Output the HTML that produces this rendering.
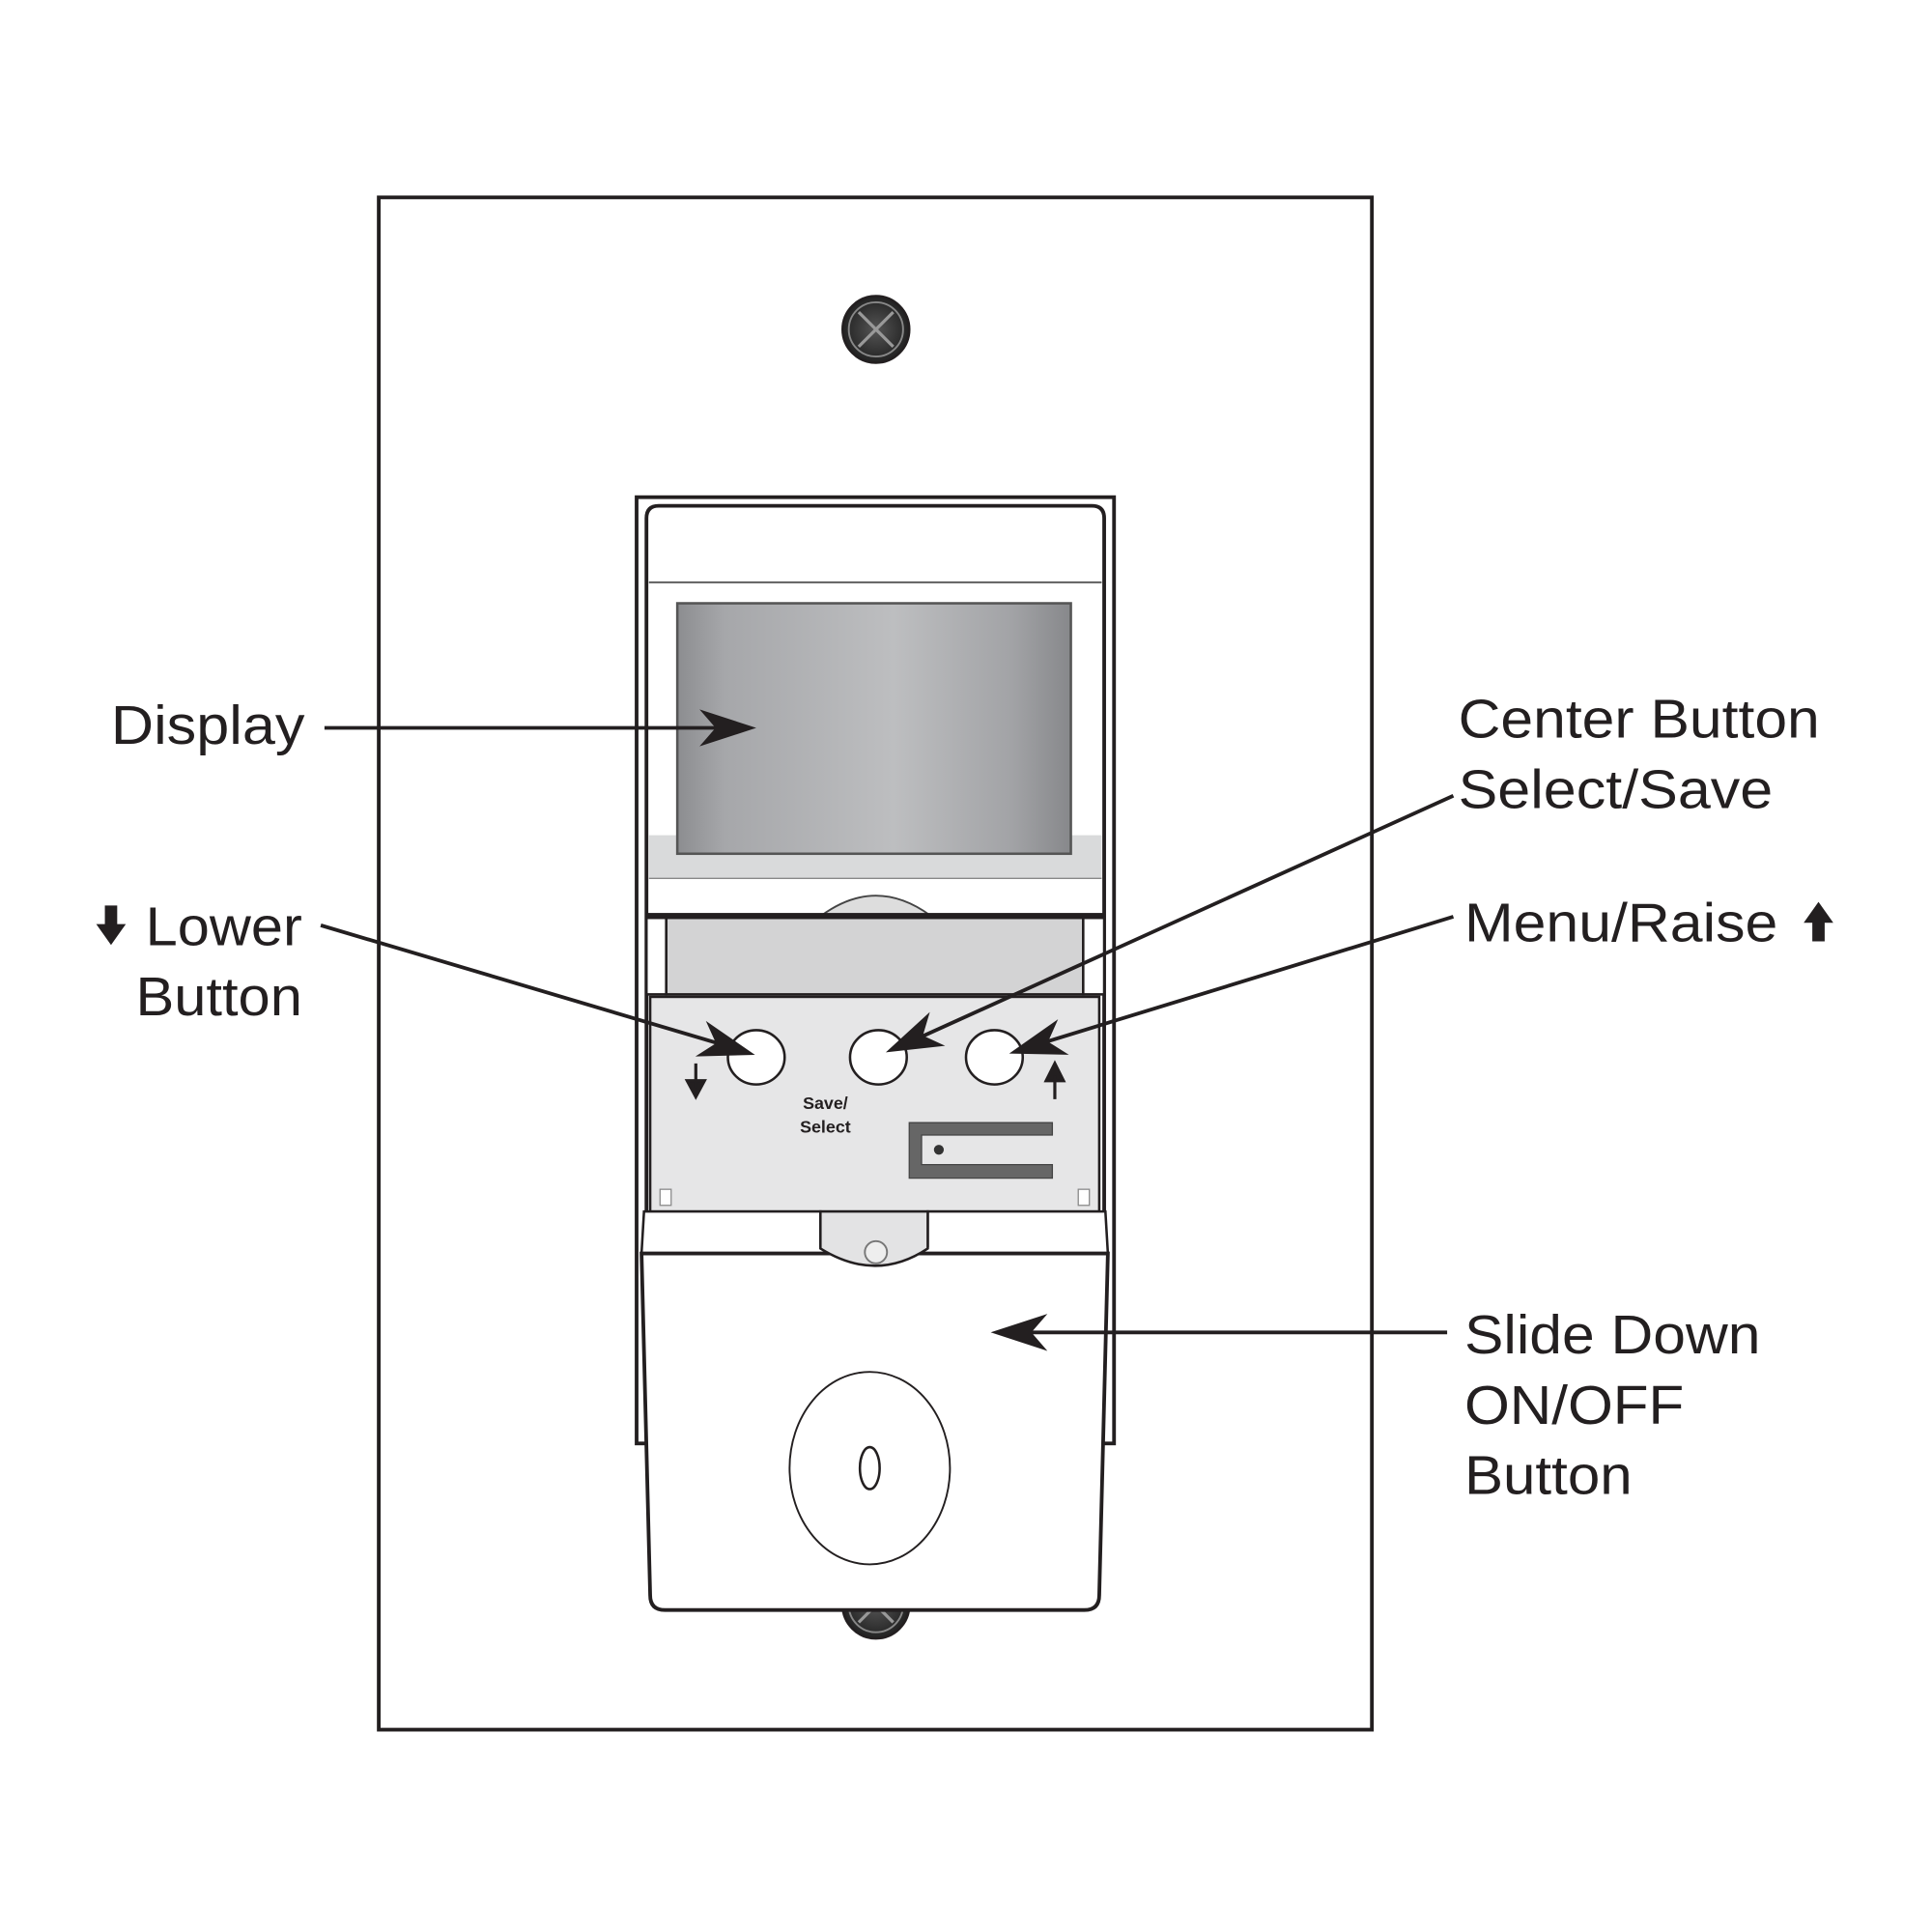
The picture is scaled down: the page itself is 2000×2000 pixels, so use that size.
<!DOCTYPE html>
<html><head><meta charset="utf-8"><style>
html,body{margin:0;padding:0;background:#fff;}
svg{display:block;}
text{font-family:"Liberation Sans",Arial,sans-serif;fill:#231f20;}
</style></head><body>
<svg width="2000" height="2000" viewBox="0 0 1566 1566" xmlns="http://www.w3.org/2000/svg">
<defs>
<linearGradient id="disp" x1="0" x2="1" y1="0" y2="0">
<stop offset="0" stop-color="#8c8d90"/><stop offset="0.12" stop-color="#a6a7aa"/>
<stop offset="0.55" stop-color="#bdbec0"/><stop offset="0.85" stop-color="#a2a3a6"/><stop offset="1" stop-color="#87888b"/>
</linearGradient>
<radialGradient id="scr"><stop offset="0" stop-color="#555"/><stop offset="1" stop-color="#222"/></radialGradient>
</defs>
<rect x="307" y="160" width="805" height="1242" fill="#fff" stroke="#231f20" stroke-width="3"/>
<!-- top screw -->
<circle cx="710" cy="267" r="27" fill="url(#scr)" stroke="#231f20" stroke-width="2"/>
<circle cx="710" cy="267" r="22" fill="none" stroke="#888" stroke-width="1.5"/>
<path d="M696 253 L724 281 M724 253 L696 281" stroke="#999" stroke-width="2.5"/>
<!-- bottom screw -->
<circle cx="710" cy="1301" r="27" fill="url(#scr)" stroke="#231f20" stroke-width="2"/>
<circle cx="710" cy="1301" r="22" fill="none" stroke="#888" stroke-width="1.5"/>
<path d="M696 1287 L724 1315 M724 1287 L696 1315" stroke="#999" stroke-width="2.5"/>
<!-- housing -->
<rect x="516" y="403" width="387" height="767" fill="#fff" stroke="#231f20" stroke-width="3"/>
<path d="M524 1000 L524 420 Q524 410 534 410 L885 410 Q895 410 895 420 L895 1000" fill="#fff" stroke="#231f20" stroke-width="3"/>
<line x1="526" y1="472" x2="893" y2="472" stroke="#555" stroke-width="1.5"/>
<rect x="526" y="677" width="367" height="35" fill="#d9dadb"/>
<line x1="526" y1="712" x2="893" y2="712" stroke="#888" stroke-width="1"/>
<rect x="549" y="489" width="319" height="203" fill="url(#disp)" stroke="#555" stroke-width="2"/>
<path d="M666 742 Q710 710 754 742 Z" fill="#ddd" stroke="#444" stroke-width="1.5"/>
<rect x="523" y="740" width="373" height="4" fill="#231f20"/>
<rect x="540" y="744" width="338" height="62" fill="#d3d3d4" stroke="#231f20" stroke-width="2"/>
<rect x="524" y="744" width="16" height="62" fill="#fff" stroke="#231f20" stroke-width="2"/>
<rect x="878" y="744" width="17" height="62" fill="#fff" stroke="#231f20" stroke-width="2"/>
<rect x="527" y="808" width="364" height="174" fill="#e6e6e7" stroke="#231f20" stroke-width="2"/>
<ellipse cx="613" cy="857" rx="23" ry="22" fill="#fff" stroke="#231f20" stroke-width="2"/>
<ellipse cx="712" cy="857" rx="23" ry="22" fill="#fff" stroke="#231f20" stroke-width="2"/>
<ellipse cx="806" cy="857" rx="23" ry="22" fill="#fff" stroke="#231f20" stroke-width="2"/>
<path d="M564 862 V882 M557 876 L564 889 L571 876 Z" stroke="#231f20" stroke-width="2.5" fill="#231f20"/>
<path d="M855 891 V872 M848 876 L855 862 L862 876 Z" stroke="#231f20" stroke-width="2.5" fill="#231f20"/>
<text x="669" y="899" font-size="14" font-weight="bold" text-anchor="middle">Save/</text>
<text x="669" y="918" font-size="14" font-weight="bold" text-anchor="middle">Select</text>
<path d="M737 910 H853 V920 H747 V944 H853 V955 H737 Z" fill="#666" stroke="#444" stroke-width="1"/>
<circle cx="761" cy="932" r="4" fill="#333"/>
<rect x="535" y="964" width="9" height="13" fill="#fff" stroke="#888" stroke-width="1"/>
<rect x="874" y="964" width="9" height="13" fill="#fff" stroke="#888" stroke-width="1"/>
<!-- tab region -->
<path d="M522 982 H665 V1010 L752 1010 V982 H896 L898 1016 H520 Z" fill="#fff" stroke="#231f20" stroke-width="2"/>
<!-- slide cover -->
<path d="M520 1016 H898 L891 1293 Q891 1305 879 1305 L539 1305 Q527 1305 527 1293 Z" fill="#fff" stroke="#231f20" stroke-width="3"/>
<path d="M665 982 H752 V1012 Q710 1040 665 1012 Z" fill="#e3e3e4" stroke="#231f20" stroke-width="2"/>
<circle cx="710" cy="1015" r="9" fill="#eee" stroke="#777" stroke-width="1.5"/>
<ellipse cx="705" cy="1190" rx="65" ry="78" fill="#fff" stroke="#231f20" stroke-width="1.5"/>
<ellipse cx="705" cy="1190" rx="8" ry="17" fill="#fff" stroke="#231f20" stroke-width="2"/>
<!-- leaders -->
<g stroke="#231f20" stroke-width="3" fill="none">
<line x1="263" y1="590" x2="600" y2="590"/>
<line x1="1173" y1="1080" x2="815" y2="1080"/>
<line x1="260" y1="750" x2="600" y2="851"/>
<line x1="1178" y1="645" x2="730" y2="848"/>
<line x1="1178" y1="743" x2="830" y2="850"/>
</g>
<g fill="#231f20">
<path d="M613 590 L567 575 L580 590 L567 605 Z"/>
<path d="M803 1080 L849 1065 L836 1080 L849 1095 Z"/>
<g transform="translate(612,855) rotate(16.5)"><path d="M0 0 L-46 -15 L-33 0 L-46 15 Z"/></g>
<g transform="translate(718,853) rotate(155.6)"><path d="M0 0 L-46 -15 L-33 0 L-46 15 Z"/></g>
<g transform="translate(818,854) rotate(163)"><path d="M0 0 L-46 -15 L-33 0 L-46 15 Z"/></g>
</g>
<!-- labels -->
<text x="90" y="603" font-size="44" textLength="157" lengthAdjust="spacingAndGlyphs">Display</text>
<text x="1182" y="598" font-size="44" textLength="293" lengthAdjust="spacingAndGlyphs">Center Button</text>
<text x="1182" y="655" font-size="44" textLength="255" lengthAdjust="spacingAndGlyphs">Select/Save</text>
<text x="1187" y="763" font-size="44" textLength="254" lengthAdjust="spacingAndGlyphs">Menu/Raise</text>
<path d="M1474 731 L1462 748 H1469 V763 H1479 V748 H1486 Z" fill="#231f20"/>
<path d="M90 766 L78 749 H85 V734 H95 V749 H102 Z" fill="#231f20"/>
<text x="118" y="766" font-size="44" textLength="127" lengthAdjust="spacingAndGlyphs">Lower</text>
<text x="110" y="823" font-size="44" textLength="135" lengthAdjust="spacingAndGlyphs">Button</text>
<text x="1187" y="1097" font-size="44" textLength="240" lengthAdjust="spacingAndGlyphs">Slide Down</text>
<text x="1187" y="1154" font-size="44" textLength="178" lengthAdjust="spacingAndGlyphs">ON/OFF</text>
<text x="1187" y="1211" font-size="44" textLength="136" lengthAdjust="spacingAndGlyphs">Button</text>
</svg>
</body></html>
